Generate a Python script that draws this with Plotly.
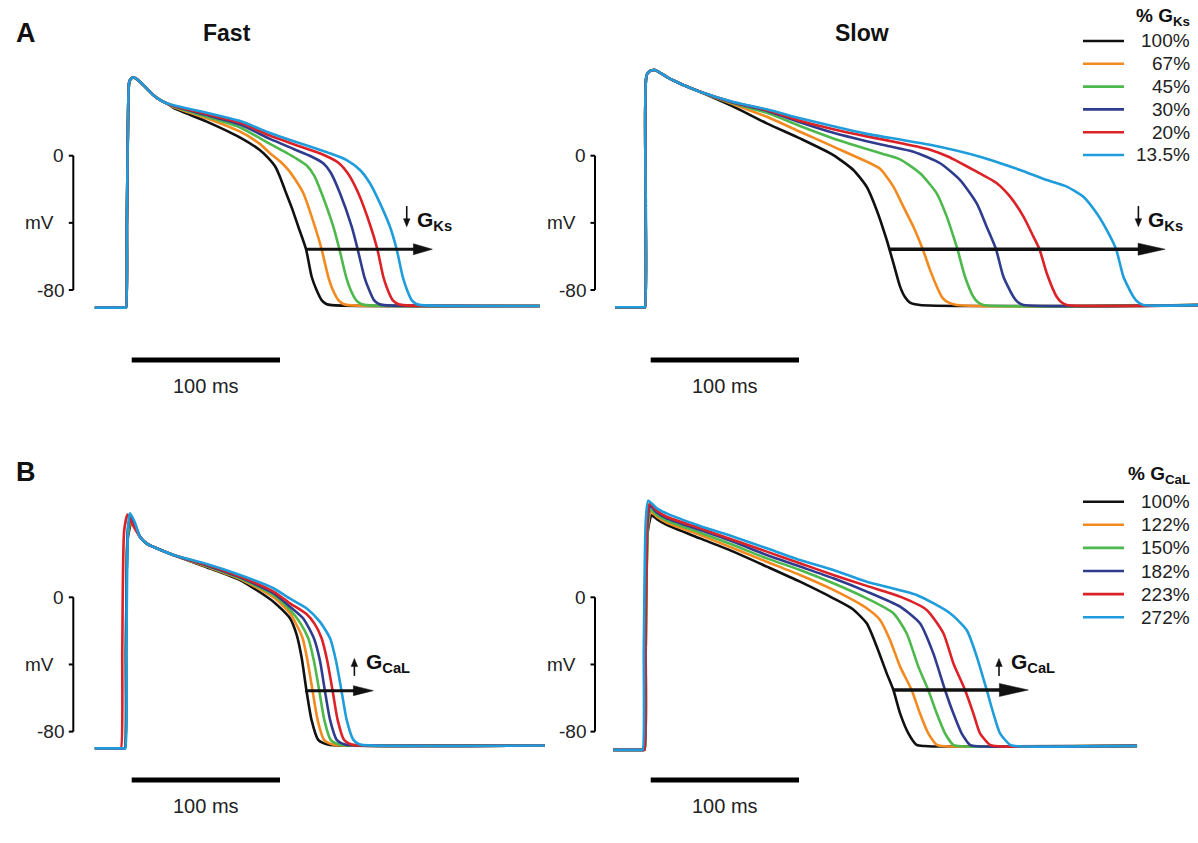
import plotly.graph_objects as go

W, H = 1198, 843

# ---------------- data (time in ms, membrane potential in mV) ----------------
labels_A = ["100%", "67%", "45%", "30%", "20%", "13.5%"]
labels_B = ["100%", "122%", "150%", "182%", "223%", "272%"]
colors = ["#111111", "#F28A1F", "#4DB84B", "#2F3C8E", "#DC2127", "#1E9CDB"]

# Panel A, Fast (G_Ks reduction)
A_fast_common_t = [-21, -1.5, -0.6, 0, 0.6, 1.5, 2.2, 3.5, 4.9, 7, 9.4, 13.9, 18.4, 22.9, 27.4]
A_fast_common_v = [-90.5, -90.5, -90.5, -90.5, -40, 30, 44, 46, 46.7, 45.8, 44.1, 40.1, 36.2, 33.2, 31.2]
A_fast_t = [
    [32, 54.4, 77, 90, 96, 101, 104, 107.2, 112, 116.2, 121.4, 125.2, 128.5, 131.9, 135, 138.6, 279],
    [32, 54.4, 77, 90, 97.1, 104, 109, 114, 119.6, 127.4, 131.9, 136.4, 139.5, 143.2, 146.5, 150, 279],
    [32, 54.4, 77, 97.1, 108, 115, 122, 127, 131.9, 139.8, 143.9, 148.4, 151.5, 155.1, 158.5, 162, 279],
    [32, 54.4, 77, 97.1, 113, 125, 133, 138, 144.3, 152.2, 156.2, 160.7, 164, 167.2, 170.5, 174, 279],
    [32, 54.4, 77, 97.1, 115, 133, 143, 150, 156.7, 165, 169.5, 173.5, 176.5, 179.8, 183.3, 187, 279],
    [32, 54.4, 77, 97.1, 110.6, 124, 137.6, 148.8, 157.8, 164.5, 171.3, 178, 182.5, 186.6, 189.5, 192.6, 195.8, 199, 279],
]
A_fast_v = [
    [28.5, 20.3, 10.8, 3.5, -1.5, -7, -13, -20.5, -31.5, -42.3, -55.7, -72.1, -80, -86, -88.3, -89, -89.5],
    [29.0, 22.3, 14.3, 7.2, 1.5, -3.5, -8, -14, -22.4, -42.3, -55.7, -72.1, -80, -86, -88.3, -89, -89.5],
    [29.3, 23.2, 16.8, 7.0, 1.8, -1.8, -6, -12, -22.4, -42.3, -55.7, -72.1, -80, -86, -88.3, -89, -89.5],
    [29.6, 24.2, 18.5, 10.0, 4.0, -0.5, -4.5, -10, -22.4, -42.3, -55.7, -72.1, -80, -86, -88.3, -89, -89.5],
    [29.8, 24.8, 19.6, 12.0, 6.2, 0.6, -4, -11, -22.4, -42.3, -55.7, -72.1, -80, -86, -88.3, -89, -89.5],
    [30.0, 25.6, 20.6, 13.5, 9.3, 5.5, 1.4, -2.6, -8.5, -16.4, -28.4, -42.3, -55.7, -72.1, -80, -86, -88.3, -89, -89.5],
]

# Panel A, Slow
A_slow_common_t = [-20.2, -1.5, -0.6, 0, 0.5, 1.1, 3.5, 6.7, 10, 14.6, 20, 25.8, 37.1]
A_slow_common_v = [-90.3, -90.3, -90.3, -90.3, -30, 48, 50.5, 51, 49.5, 47, 44.5, 42.1, 38.1]
A_slow_t = [
    [59.6, 82.1, 104.5, 127, 140.5, 149.5, 156.2, 163, 167.5, 172, 175.5, 178.7, 185.5, 373],
    [59.6, 82.1, 104.5, 127, 149.5, 158.5, 167.5, 174.2, 181, 187.3, 192.2, 197.8, 200.5, 203.5, 210.2, 373],
    [59.6, 82.1, 104.5, 127, 149.5, 160, 172, 185.5, 196.7, 203.5, 208, 210.7, 215.8, 221.4, 224.5, 228.2, 373],
    [59.6, 82.1, 104.5, 127, 149.5, 165, 181, 199, 212.5, 223.7, 230.4, 236.7, 241.7, 248.4, 251.5, 255.2, 373],
    [59.6, 82.1, 104.5, 127, 149.5, 172, 192.2, 205, 221.4, 237.2, 246.2, 255.2, 261.9, 266, 270.9, 277.6, 280.8, 284.4, 373],
    [59.6, 82.1, 104.5, 127, 149.5, 172, 192.2, 225.9, 252.9, 270.9, 284.4, 295.6, 304.6, 311.4, 317.7, 322.6, 329.3, 332.5, 336.1, 373],
]
A_slow_v = [
    [29.2, 19.3, 10.3, 0.4, -8.5, -18.5, -32.3, -50.2, -64, -78, -84.5, -87.5, -88.9, -89],
    [30.6, 23.2, 14.3, 5.4, -3.5, -7.8, -18.4, -30.3, -42.3, -55.7, -68, -80, -84.5, -86.9, -88.9, -89],
    [31.2, 25.6, 17.7, 10.3, 4, 1.2, -2.2, -10.5, -22.4, -36.3, -48.2, -55.7, -72.1, -84, -87.3, -88.9, -89],
    [31.6, 26.8, 19.9, 13.6, 8.6, 5.6, 2.4, -4.5, -14.5, -28.4, -42.3, -55.7, -72.1, -84, -87.3, -88.9, -89],
    [31.8, 27.2, 20.8, 15.8, 11.5, 7.6, 3.6, -0.8, -8.5, -16.4, -24.4, -36.3, -48.2, -55.7, -70, -84, -87.3, -88.9, -89],
    [32.0, 27.6, 22.3, 17.5, 13.0, 9.6, 6.5, -0.6, -8.5, -14.5, -18.4, -24.4, -34.3, -44.3, -55.7, -72.1, -84, -87.3, -88.9, -89],
]

# Panel B, Fast (G_CaL increase)
B_fast_t = [
    [-21, -2, -0.8, 0.0, 1.2, 3.8, 6, 9.4, 14, 20.7, 31.9, 54.4, 76.9, 99.4, 110.6, 115.1, 118.5, 121.7, 125.1, 129.6, 133.5, 137.6, 282.5],
    [-21, -2, -0.8, 0.0, 1.2, 3.5, 6, 9.4, 14, 20.7, 31.9, 54.4, 76.9, 99.4, 110.6, 115.1, 119.1, 122.4, 125.8, 129.2, 133.5, 137.2, 141, 282.5],
    [-21, -2, -0.8, 0.0, 1.2, 3.3, 6, 9.4, 14, 20.7, 31.9, 54.4, 76.9, 99.4, 110.6, 117.3, 122.9, 126.7, 130.3, 133.7, 138, 141.6, 145.3, 282.5],
    [-21, -2, -0.8, 0.0, 1.2, 3.0, 6, 9.4, 14, 20.7, 31.9, 54.4, 76.9, 99.4, 110.6, 119.4, 126.7, 130.8, 134.1, 137.6, 142.1, 145.5, 148.8, 282.5],
    [-21, -4.6, -3.4, -2.5, -1.2, 1.1, 4, 9.4, 14, 20.7, 31.9, 54.4, 76.9, 99.4, 110.6, 121.7, 127.3, 131.9, 135.7, 139.3, 142.7, 147, 150.2, 153.3, 282.5],
    [-21, -1.7, -0.5, 0.3, 1.4, 2.7, 6, 9.4, 14, 20.7, 31.9, 54.4, 76.9, 99.4, 110.6, 121.7, 130.7, 137.6, 141.6, 145.3, 148.8, 153.3, 156.1, 158.9, 282.5],
]
B_fast_v = [
    [-90, -90, -90, -30, 35, 45.2, 42, 36.1, 32, 29.2, 25.2, 17.9, 10.3, -2.6, -12.5, -22.4, -36.3, -55.6, -73, -84.9, -87, -87.9, -88.3],
    [-90, -90, -90, -30, 37, 46, 42.5, 36.1, 32, 29.2, 25.2, 18.3, 10.9, 0, -9.5, -16.5, -24.4, -37.8, -55.6, -73, -84.9, -87, -87.9, -88.3],
    [-90, -90, -90, -30, 38, 47, 43, 36.1, 32, 29.2, 25.2, 18.7, 11.3, 1.4, -7.5, -15.0, -24.4, -37.8, -55.6, -73, -84.9, -87, -87.9, -88.3],
    [-90, -90, -90, -30, 40, 48, 43.5, 36.1, 32, 29.2, 25.2, 19, 11.9, 2.4, -5.6, -12.5, -24.4, -37.8, -55.6, -73, -84.9, -87, -87.9, -88.3],
    [-90, -90, -90, -30, 40, 49.3, 44, 36.1, 32, 29.2, 25.2, 19.4, 12.3, 3.4, -3.6, -10.0, -16.0, -24.4, -37.8, -55.6, -73, -84.9, -87, -87.9, -88.3],
    [-90, -90, -90, -30, 42, 50, 44.5, 36.1, 32, 29.2, 25.2, 19.8, 13.3, 5.4, -0.8, -6.5, -14.5, -24.4, -37.8, -55.6, -73, -84.9, -87, -87.9, -88.3],
]

# Panel B, Slow
B_slow_t = [
    [-21.4, -1.5, -0.3, 0.5, 2.0, 4.5, 8, 14.6, 37.1, 59.6, 82.1, 104.5, 127, 140, 149.5, 156.3, 163, 167.5, 172, 177.6, 183.2, 188.5, 194.4, 331.8],
    [-21.4, -1.5, -0.3, 0.5, 2.0, 4, 8, 14.6, 37.1, 59.6, 82.1, 104.5, 127, 149.5, 158.5, 165.2, 172, 179.8, 185.4, 191, 196.7, 200.5, 205, 331.8],
    [-21.4, -1.5, -0.3, 0.5, 2.0, 3.8, 8, 14.6, 37.1, 59.6, 82.1, 104.5, 127, 149.5, 167.5, 176.4, 184.3, 191, 196.7, 202.3, 207.9, 211.5, 215, 331.8],
    [-21.4, -1.7, -0.5, 0.3, 1.8, 3.5, 8, 14.6, 37.1, 59.6, 82.1, 104.5, 127, 149.5, 172, 185.4, 194.4, 202.3, 207.9, 213.5, 219.1, 222.5, 226, 331.8],
    [-21.4, -1.8, -0.6, 0.2, 1.6, 3.2, 8, 14.6, 37.1, 59.6, 82.1, 104.5, 127, 149.5, 172, 189.9, 201.2, 207.9, 215.8, 221.4, 225.9, 232.6, 236.3, 240, 331.8],
    [-21.4, -2.8, -1.6, -0.8, 0.5, 2.2, 8, 14.6, 37.1, 59.6, 82.1, 104.5, 127, 149.5, 183.2, 205.7, 216.9, 223.7, 230.4, 234.9, 239.4, 246.2, 250, 254, 331.8],
]
B_slow_v = [
    [-90.9, -90.9, -90.9, -30, 40, 48.9, 46.5, 43.1, 35.1, 27.2, 18.3, 9.3, -0.6, -7, -15.5, -29.4, -45.3, -55.2, -69.1, -81, -87.9, -88.6, -88.9, -88.5],
    [-90.9, -90.9, -90.9, -30, 42, 50.9, 48, 44.5, 37.1, 29.2, 21.2, 13.3, 4.4, -6.5, -13.5, -25.4, -41.3, -55.2, -69.1, -81, -87.9, -88.6, -88.9, -88.5],
    [-90.9, -90.9, -90.9, -30, 44, 52.3, 49, 45.7, 38.5, 31.1, 23.2, 16.3, 8.4, -0.6, -9.5, -21.4, -41.3, -55.2, -69.1, -81, -87.9, -88.6, -88.9, -88.5],
    [-90.9, -90.9, -90.9, -30, 46, 54.3, 50.5, 47, 40.1, 33.1, 25.2, 18.3, 11.3, 3.4, -5.6, -15.5, -33.4, -55.2, -69.1, -81, -87.9, -88.6, -88.9, -88.5],
    [-90.9, -90.9, -90.9, -30, 48, 55.9, 51.5, 48, 41.1, 34.1, 27.2, 20.3, 13.3, 6.8, 0.4, -7.5, -21.4, -39.3, -55.2, -69.1, -81, -87.9, -88.6, -88.9, -88.5],
    [-90.9, -90.9, -90.9, -30, 45, 57.5, 53, 50, 42.5, 36.1, 29.2, 22.2, 16.3, 9.3, 1.4, -9.5, -19.5, -35.3, -55.2, -69.1, -81, -87.9, -88.6, -88.9, -88.5],
]

# shift arrows: (t_start, t_end, V)
shift_arrow_A_fast = (120.7, 206.6, -55.7)
shift_arrow_A_slow = (165.2, 350.7, -55.7)
shift_arrow_B_fast = (120.7, 166.8, -55.6)
shift_arrow_B_slow = (167.5, 258.5, -55.2)

# scale bars
mv_ticks = [0, -40, -80]
mv_ticklabels = ["0", "mV", "-80"]
time_bar_ms = 100
time_bar_label = "100 ms"

# ---------------- layout geometry (pixel calibration) ----------------
PX_PER_MS = 1.483
PX_PER_MV = 1.679
FONT = "Arial, Liberation Sans, sans-serif"

panels = [
    dict(ax="", xbox=(0, 560), ybox=(0, 420), t0=126, v0=155.7, bar_x=73.3),
    dict(ax="2", xbox=(560, 1198), ybox=(0, 420), t0=645, v0=155.7, bar_x=595),
    dict(ax="3", xbox=(0, 560), ybox=(420, 843), t0=126, v0=597.3, bar_x=73.3),
    dict(ax="4", xbox=(560, 1198), ybox=(420, 843), t0=645, v0=597.3, bar_x=595),
]

def t_of(p, xpix):
    return (xpix - p["t0"]) / PX_PER_MS

def v_of(p, ypix):
    return (p["v0"] - ypix) / PX_PER_MV

def xpix_of(p, t):
    return p["t0"] + t * PX_PER_MS

def ypix_of(p, v):
    return p["v0"] - v * PX_PER_MV

fig = go.Figure()
layout_axes = {}
for p in panels:
    xa, xb = p["xbox"]
    ya, yb = p["ybox"]
    layout_axes["xaxis" + p["ax"]] = dict(
        domain=[xa / W, xb / W], range=[t_of(p, xa), t_of(p, xb)],
        visible=False, fixedrange=True, anchor="y" + p["ax"])
    layout_axes["yaxis" + p["ax"]] = dict(
        domain=[1 - yb / H, 1 - ya / H], range=[v_of(p, yb), v_of(p, ya)],
        visible=False, fixedrange=True, anchor="x" + p["ax"])

def add_curves(p, ts, vs, labels, common_t=None, common_v=None):
    for i in range(len(ts)):
        t = (common_t or []) + ts[i]
        v = (common_v or []) + vs[i]
        fig.add_trace(go.Scatter(
            x=t, y=v, mode="lines", name=labels[i], showlegend=False, hoverinfo="skip",
            line=dict(color=colors[i], width=2.6, shape="spline", smoothing=0.6),
            xaxis="x" + p["ax"], yaxis="y" + p["ax"]))

add_curves(panels[0], A_fast_t, A_fast_v, labels_A, A_fast_common_t, A_fast_common_v)
add_curves(panels[1], A_slow_t, A_slow_v, labels_A, A_slow_common_t, A_slow_common_v)
add_curves(panels[2], B_fast_t, B_fast_v, labels_B)
add_curves(panels[3], B_slow_t, B_slow_v, labels_B)

shapes = []
annotations = []

def xref(p):
    return "x" + p["ax"]

def yref(p):
    return "y" + p["ax"]

for p in panels:
    xr, yr = xref(p), yref(p)
    tb = t_of(p, p["bar_x"])
    ttick = t_of(p, p["bar_x"] - 4.5)
    shapes.append(dict(type="line", xref=xr, yref=yr, x0=tb, x1=tb,
                       y0=mv_ticks[0], y1=mv_ticks[-1], line=dict(color="black", width=2)))
    for val, lab in zip(mv_ticks, mv_ticklabels):
        shapes.append(dict(type="line", xref=xr, yref=yr, x0=ttick, x1=tb,
                           y0=val, y1=val, line=dict(color="black", width=2)))
        annotations.append(dict(
            xref=xr, yref=yr, x=t_of(p, p["bar_x"] - (17 if lab == "mV" else 7)), y=val,
            text=lab, showarrow=False, xanchor="right", yanchor="middle",
            font=dict(family=FONT, size=19, color="#222")))
    t_start = t_of(p, p["t0"] + 5.7)
    v_bar = v_of(p, p["ybox"][0] + 360)
    shapes.append(dict(type="line", xref=xr, yref=yr, x0=t_start, x1=t_start + time_bar_ms,
                       y0=v_bar, y1=v_bar, line=dict(color="black", width=5)))
    annotations.append(dict(
        xref=xr, yref=yr, x=t_start + time_bar_ms / 2, y=v_of(p, p["ybox"][0] + 386),
        text=time_bar_label, showarrow=False, xanchor="center", yanchor="middle",
        font=dict(family=FONT, size=20, color="#222")))

def arrow(p, t0, v0, t1, v1, width, head_len, head_w):
    """Arrow from (t0,v0) to (t1,v1); head sizes in pixels, built as shapes."""
    xr, yr = xref(p), yref(p)
    x0, y0 = xpix_of(p, t0), ypix_of(p, v0)
    x1, y1 = xpix_of(p, t1), ypix_of(p, v1)
    dx, dy = x1 - x0, y1 - y0
    L = (dx * dx + dy * dy) ** 0.5
    ux, uy = dx / L, dy / L
    bx, by = x1 - ux * head_len, y1 - uy * head_len
    nx, ny = -uy, ux
    shapes.append(dict(type="line", xref=xr, yref=yr, x0=t0, y0=v0,
                       x1=t_of(p, bx + ux * 1), y1=v_of(p, by + uy * 1),
                       line=dict(color="#111", width=width)))
    pts = [(x1, y1), (bx + nx * head_w / 2, by + ny * head_w / 2),
           (bx - nx * head_w / 2, by - ny * head_w / 2)]
    path = "M " + " L ".join(f"{t_of(p, a):.3f},{v_of(p, b):.3f}" for a, b in pts) + " Z"
    shapes.append(dict(type="path", xref=xr, yref=yr, path=path,
                       fillcolor="#111", line=dict(color="#111", width=0.5)))

def shift_marker(p, arr, label, up, label_t, arrow_t, head_len, head_w, width):
    t0, t1, v = arr
    arrow(p, t0, v, t1, v, width, head_len, head_w)
    va, vb = (-46.8, -36.4) if up else (-30.0, -42.3)
    arrow(p, arrow_t, va, arrow_t, vb, 1.6, 8, 6.5)
    annotations.append(dict(
        xref=xref(p), yref=yref(p), x=label_t, y=-39.0, text=label, showarrow=False,
        xanchor="left", yanchor="middle",
        font=dict(family=FONT, size=21, color="#111")))

shift_marker(panels[0], shift_arrow_A_fast, "<b>G<sub>Ks</sub></b>", False, 195, 189.3, 19, 11, 3)
shift_marker(panels[1], shift_arrow_A_slow, "<b>G<sub>Ks</sub></b>", False, 337.5, 332.7, 27, 12, 3.5)
shift_marker(panels[2], shift_arrow_B_fast, "<b>G<sub>CaL</sub></b>", True, 160.5, 154, 20, 10, 3)
shift_marker(panels[3], shift_arrow_B_slow, "<b>G<sub>CaL</sub></b>", True, 245.5, 238.7, 29, 13, 3.5)

def paper(x, y):
    return x / W, 1 - y / H

for txt, x, y, size in [("<b>A</b>", 26, 33, 27), ("<b>B</b>", 26, 472, 27),
                        ("<b>Fast</b>", 227, 33, 23), ("<b>Slow</b>", 862, 33, 23)]:
    px, py = paper(x, y)
    annotations.append(dict(xref="paper", yref="paper", x=px, y=py, text=txt,
                            showarrow=False, xanchor="center", yanchor="middle",
                            font=dict(family=FONT, size=size, color="#111")))

def legend_block(title, labels, y_title, y_first, dy):
    px, py = paper(1192, y_title)
    annotations.append(dict(xref="paper", yref="paper", x=px, y=py, text=title,
                            showarrow=False, xanchor="right", yanchor="middle",
                            font=dict(family=FONT, size=19, color="#111")))
    for i, lab in enumerate(labels):
        y = y_first + i * dy
        x0, yy = paper(1083, y)
        x1, _ = paper(1124, y)
        shapes.append(dict(type="line", xref="paper", yref="paper", x0=x0, x1=x1,
                           y0=yy, y1=yy, line=dict(color=colors[i], width=2.6)))
        tx, ty = paper(1192, y)
        annotations.append(dict(xref="paper", yref="paper", x=tx, y=ty, text=lab,
                                showarrow=False, xanchor="right", yanchor="middle",
                                font=dict(family=FONT, size=19, color="#222")))

legend_block("<b>% G<sub>Ks</sub></b>", labels_A, 17, 41, 22.8)
legend_block("<b>% G<sub>CaL</sub></b>", labels_B, 475, 501.7, 23.1)

fig.update_layout(
    width=W, height=H, autosize=False,
    margin=dict(l=0, r=0, t=0, b=0),
    paper_bgcolor="white", plot_bgcolor="white",
    showlegend=False, shapes=shapes, annotations=annotations,
    **layout_axes)

fig.write_html(
    "out.html",
    config={"displayModeBar": False, "staticPlot": True},
    post_script="document.body.style.margin='0px';document.body.style.overflow='hidden';")
